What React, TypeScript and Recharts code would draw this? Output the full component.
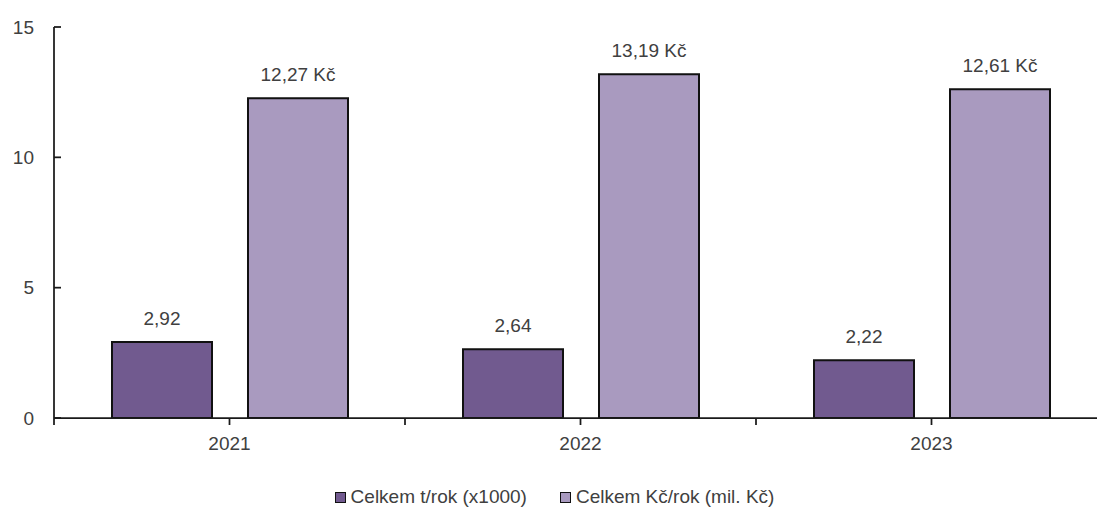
import { BarChart, Bar, XAxis, YAxis, LabelList } from 'recharts';

const years = ['2021', '2022', '2023'];
const tonsPerYear = [2.92, 2.64, 2.22];
const czkPerYear = [12.27, 13.19, 12.61];
const yTicks = [0, 5, 10, 15];

const seriesNames = ['Celkem t/rok (x1000)', 'Celkem Kč/rok (mil. Kč)'];
const DARK = '#715A8F';
const LIGHT = '#A99ABF';
const TEXT = '#404040';
const AXIS = '#1a1a1a';
const FONT = '"Liberation Sans", Arial, sans-serif';

const data = years.map((y, i) => ({ year: y, tons: tonsPerYear[i], czk: czkPerYear[i] }));

const fmt = (v: number) => v.toFixed(2).replace('.', ',');

const TICK_MARGIN = 12;
const TICK_LEN = 7;

// carky pod osou x: uprostred kategorie i na jejich hranicich
const XTick = (props: any) => {
    const { x, y, payload, index, visibleTicksCount } = props;
    const half = payload?.offset ?? 0;
    const y0 = y - TICK_MARGIN - TICK_LEN;
    const marks = [x - half, x];
    if (index === visibleTicksCount - 1) marks.push(x + half);
    return (
        <g>
            {marks.map((mx, i) => (
                <line key={i} x1={mx} x2={mx} y1={y0} y2={y0 + TICK_LEN} stroke={AXIS} strokeWidth={1.75} />
            ))}
            <text x={x} y={y} dy="0.71em" textAnchor="middle" fill={TEXT} fontSize={19}>
                {payload.value}
            </text>
        </g>
    );
};

const LegendBox = () => (
    <div style={{ position: 'absolute', left: 0, top: 486, width: 1097, height: 22, display: 'flex', justifyContent: 'center', paddingLeft: 12, boxSizing: 'border-box', alignItems: 'center', fontFamily: FONT, fontSize: 19, lineHeight: '22px', color: TEXT }}>
        {[DARK, LIGHT].map((c, i) => (
            <div key={i} style={{ display: 'flex', alignItems: 'center', marginRight: i === 0 ? 33 : 0 }}>
                <span style={{ width: 9, height: 9, background: c, border: '1.5px solid #111', marginRight: 5, display: 'inline-block' }} />
                <span>{seriesNames[i]}</span>
            </div>
        ))}
    </div>
);

export default function App() {
    return (
        <div style={{ position: 'relative', width: 1097, height: 509, overflow: 'hidden' }}>
            <style>{'body{margin:0}'}</style>
            <BarChart
                width={1120}
                height={509}
                data={data}
                margin={{ top: 27, right: 13, left: 0, bottom: 22 }}
                barSize={100}
                barGap={36}
                style={{ fontFamily: FONT }}
            >
                <XAxis
                    dataKey="year"
                    height={69}
                    tickLine={false}
                    tickSize={0}
                    tickMargin={TICK_MARGIN + TICK_LEN}
                    stroke={AXIS}
                    strokeWidth={1.75}
                    tick={<XTick />}
                    interval={0}
                />
                <YAxis
                    domain={[0, 15]}
                    ticks={yTicks}
                    width={54}
                    tickSize={-7}
                    tickMargin={27}
                    stroke={AXIS}
                    strokeWidth={1.75}
                    tick={{ fill: TEXT, fontSize: 19 }}
                />
                <Bar dataKey="tons" name={seriesNames[0]} fill={DARK} stroke="#111" strokeWidth={2} isAnimationActive={false}>
                    <LabelList dataKey="tons" position="top" offset={17} formatter={(v: any) => fmt(Number(v))} fill={TEXT} fontSize={19} />
                </Bar>
                <Bar dataKey="czk" name={seriesNames[1]} fill={LIGHT} stroke="#111" strokeWidth={2} isAnimationActive={false}>
                    <LabelList dataKey="czk" position="top" offset={17} formatter={(v: any) => fmt(Number(v)) + ' Kč'} fill={TEXT} fontSize={19} />
                </Bar>
            </BarChart>
            <LegendBox />
        </div>
    );
}
